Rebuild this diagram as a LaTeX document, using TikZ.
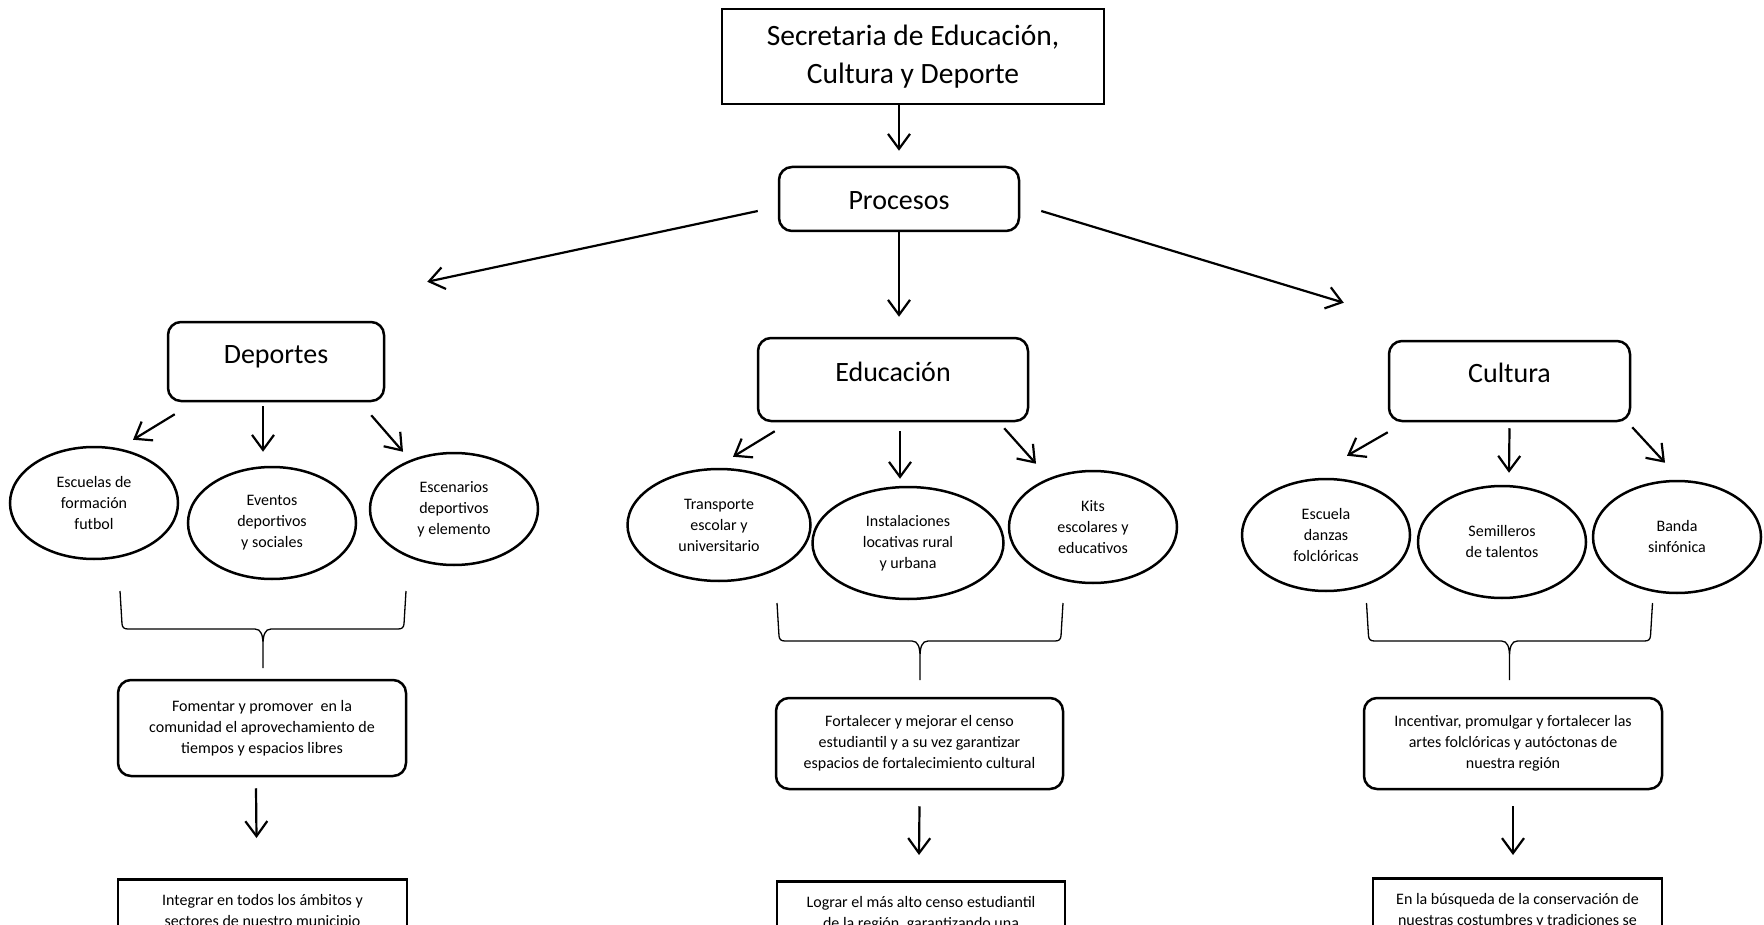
\documentclass[tikz,border=0pt]{standalone}
\usepackage{fontspec}
\setmainfont{Carlito}
\usetikzlibrary{shapes.geometric, arrows.meta, calc}

\begin{document}
\begin{tikzpicture}[x=1pt, y=1pt,
    caja/.style={draw, rectangle, line width=2.6pt, inner sep=0pt, align=center},
    titulo/.style={caja, rounded corners=13pt, line width=2.5pt, font=\fontsize{28}{34}\selectfont},
    elipse/.style={draw, ellipse, line width=2.5pt, inner sep=0pt, align=center,
        minimum width=168pt, minimum height=112pt, font=\fontsize{16}{21}\selectfont},
    meta/.style={caja, rounded corners=13pt, line width=2.5pt, font=\fontsize{16}{21}\selectfont},
    final/.style={caja, anchor=north, line width=2.8pt, minimum width=289pt, inner ysep=15pt,
        text depth=80pt, font=\fontsize{16}{21}\selectfont},
    arr/.style={-{Straight Barb[length=15pt, width=22pt]}, line width=2.2pt},
    llave/.style={line width=1.3pt},
    grupo/.pic={
        \draw[llave] (-143,0) -- (-141,-33) .. controls (-140.5,-36.5) and (-139,-38) .. (-135,-38)
            -- (-8,-38) .. controls (-2,-38) and (0,-44) .. (0,-54) -- (0,-77)
            (0,-54) .. controls (0,-44) and (2,-38) .. (8,-38)
            -- (135,-38) .. controls (139,-38) and (140.5,-36.5) .. (141,-33) -- (143,0);
    }]

% page size, the bottom boxes run off the page
\useasboundingbox (0,0) rectangle (1764,-925);
\clip (0,0) rectangle (1764,-925);

\node[caja, minimum width=382pt, minimum height=95pt, font=\fontsize{29.5}{38}\selectfont] (sec) at (913,-56.5) {Secretaria de Educación,\\Cultura y Deporte};
\node[titulo, minimum width=240pt, minimum height=64pt, text height=22pt, text depth=0pt] (proc) at (899,-199) {Procesos};

\node[titulo, minimum width=216pt, minimum height=79pt, text height=18pt, text depth=15pt] (dep) at (276,-361.5) {Deportes};
\node[titulo, minimum width=270pt, minimum height=83pt, text height=18pt, text depth=15pt] (edu) at (893,-379.5) {Educación};
\node[titulo, minimum width=241pt, minimum height=80pt, text height=18pt, text depth=15pt] (cul) at (1509.5,-381) {Cultura};

\node[elipse] (e11) at (94,-503) {Escuelas de\\formación\\futbol};
\node[elipse] (e12) at (272,-523) {Eventos\\deportivos\\y sociales};
\node[elipse] (e13) at (454,-509) {Escenarios\\deportivos\\y elemento};
\node[elipse, minimum width=183pt] (e21) at (719,-525) {Transporte\\escolar y\\universitario};
\node[elipse, minimum width=191pt] (e22) at (908,-543) {Instalaciones\\locativas rural\\y urbana};
\node[elipse] (e23) at (1093,-527) {Kits\\escolares y\\educativos};
\node[elipse] (e31) at (1326,-535) {Escuela\\danzas\\folclóricas};
\node[elipse] (e32) at (1502,-542) {Semilleros\\de talentos};
\node[elipse] (e33) at (1677,-537) {Banda\\sinfónica};

\node[meta, minimum width=288pt, minimum height=96pt] (fom) at (262,-728) {Fomentar y promover\ \ en la\\comunidad el aprovechamiento de\\tiempos y espacios libres};
\node[meta, minimum width=287pt, minimum height=91pt] (fort) at (919.5,-743.5) {Fortalecer y mejorar el censo\\estudiantil y a su vez garantizar\\espacios de fortalecimiento cultural};
\node[meta, minimum width=298pt, minimum height=91pt] (inc) at (1513,-743.5) {Incentivar, promulgar y fortalecer las\\artes folclóricas y autóctonas de\\nuestra región};

\node[final] (int) at (262.5,-878) {Integrar en todos los ámbitos y\\sectores de nuestro municipio};
\node[final, minimum width=288pt] (log) at (921,-880) {Lograr el más alto censo estudiantil\\de la región, garantizando una};
\node[final] (bus) at (1517.5,-877) {En la búsqueda de la conservación de\\nuestras costumbres y tradiciones se};

% arrows from the top
\draw[arr] (sec.south -| proc.north) -- ([yshift=15pt]proc.north);
\draw[arr] ([shift={(-20,-12)}]proc.west) -- ([shift={(42,39)}]dep.north east);
\draw[arr] (proc.south) -- ($(proc.south |- edu.north)+(0,20)$);
\draw[arr] ([shift={(21,-12)}]proc.east) -- ([shift={(-44,37)}]cul.north west);

% arrows to the ellipses
\draw[arr] ([shift={(8,-12)}]dep.south west) -- ([shift={(39,6)}]e11.north);
\draw[arr] ([shift={(-13,-4)}]dep.south) -- ([shift={(-9,14)}]e12.north);
\draw[arr] ([shift={(-14,-13)}]dep.south east) -- ([shift={(-51,0)}]e13.north);
\draw[arr] ([shift={(18,-9)}]edu.south west) -- ([shift={(14,11)}]e21.north);
\draw[arr] ([shift={(7,-9)}]edu.south) -- ([shift={(-8,7)}]e22.north);
\draw[arr] ([shift={(-25,-6)}]edu.south east) -- ([shift={(-57,6)}]e23.north);
\draw[arr] ([shift={(0,-10)}]cul.south west) -- ([shift={(21,22)}]e31.north);
\draw[arr] ([shift={(0,-6)}]cul.south) -- ([shift={(7,12)}]e32.north);
\draw[arr] ([shift={(1,-5)}]cul.south east) -- ([shift={(-12,17)}]e33.north);

% brackets under the ellipses
\pic at (263,-591) {grupo};
\pic at (920,-603) {grupo};
\pic at (1509.5,-603) {grupo};

% arrows to the bottom boxes
\draw[arr] ([shift={(-6,-11)}]fom.south) -- ([shift={(-6,40)}]int.north);
\draw[arr] ([yshift=-16pt]fort.south) -- ([shift={(-2,25)}]log.north);
\draw[arr] ([yshift=-16pt]inc.south) -- ([shift={(-4.5,22)}]bus.north);
\end{tikzpicture}
\end{document}
